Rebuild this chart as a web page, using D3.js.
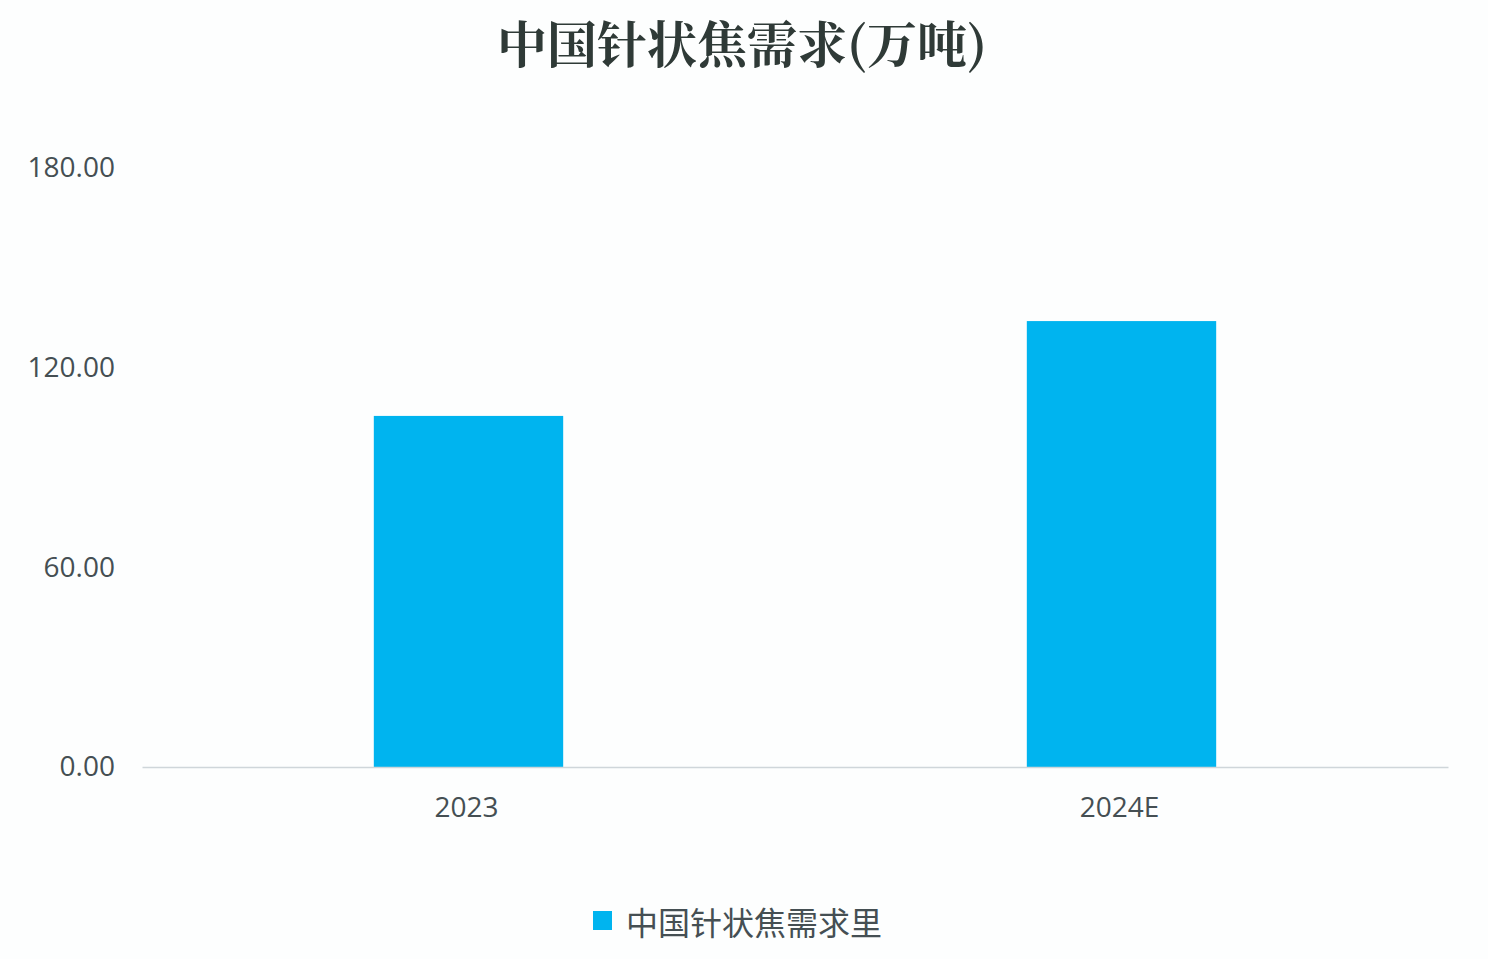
<!DOCTYPE html>
<html>
<head>
<meta charset="utf-8">
<script src="https://cdn.jsdelivr.net/npm/d3@7"></script>
<style>
  html, body { margin: 0; padding: 0; background: #fdfefe; }
  svg { display: block; }
</style>
</head>
<body>
<svg id="chart" width="1488" height="959"></svg>
<script>
const title = "中国针状焦需求(万吨)";
const categories = ["2023", "2024E"];
const values = [105.5, 134];
const seriesName = "中国针状焦需求里";
const yTicks = [0, 60, 120, 180];

const W = 1488, H = 959;
const margin = { left: 142, right: 40, top: 168, bottom: 192 };
const svg = d3.select("#chart");
const textColor = "#454f53";
const barColor = "#00b4ef";

const x = d3.scaleBand().domain(categories).range([margin.left, W - margin.right]).padding(0);
const y = d3.scaleLinear().domain([0, 180]).range([H - margin.bottom, margin.top]);

// title
svg.append("text")
  .attr("x", 742).attr("y", 63)
  .attr("text-anchor", "middle")
  .attr("font-family", "'Noto Serif CJK SC', 'Noto Sans CJK SC', serif")
  .attr("font-weight", "bold")
  .attr("font-size", 50)
  .attr("fill", "#2f3a37")
  .text(title);

// y axis labels
const yAxis = d3.axisLeft(y).tickValues(yTicks).tickFormat(d3.format(".2f")).tickSize(0).tickPadding(27);
const yg = svg.append("g").attr("transform", `translate(${margin.left},0)`).call(yAxis);
yg.select(".domain").remove();
yg.selectAll("text")
  .attr("font-family", "'Open Sans', 'Noto Sans', sans-serif")
  .attr("font-size", 28)
  .attr("fill", textColor);

// bars
const barFrac = 0.29;
svg.append("g").selectAll("rect")
  .data(categories)
  .join("rect")
  .attr("x", (d) => x(d) + x.bandwidth() * (1 - barFrac) / 2)
  .attr("width", x.bandwidth() * barFrac)
  .attr("y", (d, i) => y(values[i]))
  .attr("height", (d, i) => y(0) - y(values[i]))
  .attr("fill", barColor);

// x axis
const xAxis = d3.axisBottom(x).tickSize(0).tickPadding(30);
const xg = svg.append("g").attr("transform", `translate(0,${y(0)})`).call(xAxis);
xg.select(".domain").attr("stroke", "#cfd6da").attr("stroke-width", 1.5);
xg.selectAll("text")
  .attr("font-family", "'Open Sans', 'Noto Sans', sans-serif")
  .attr("font-size", 28)
  .attr("fill", textColor)
  .attr("dx", -2);

// legend
const lg = svg.append("g").attr("transform", "translate(593,911)");
lg.append("rect").attr("width", 19).attr("height", 19).attr("fill", barColor);
lg.append("text")
  .attr("x", 33).attr("y", 10)
  .attr("dominant-baseline", "central")
  .attr("font-family", "'Noto Sans CJK SC', sans-serif")
  .attr("font-size", 32)
  .attr("fill", textColor)
  .text(seriesName);
</script>
</body>
</html>
